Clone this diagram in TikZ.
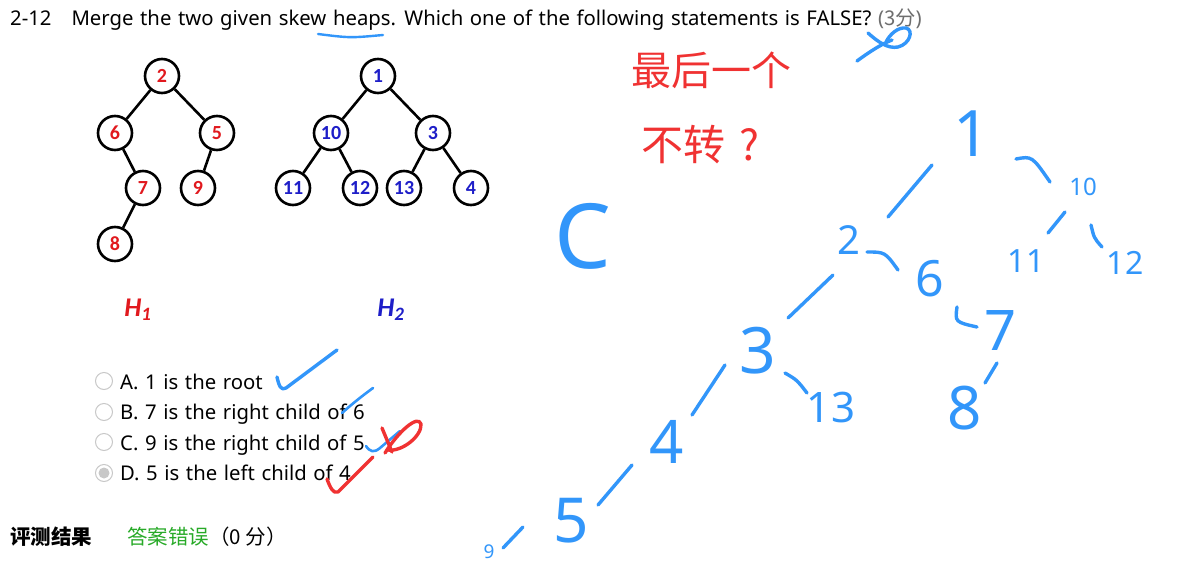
\documentclass[tikz,border=0pt]{standalone}
\usepackage{fontspec}
\setmainfont{Noto Sans}[WordSpace=1.25]
\newfontfamily\cjk{Noto Sans CJK SC}
\newfontfamily\calib{Carlito}
\newfontfamily\hand{Noto Sans}
\definecolor{nred}{RGB}{225,25,30}
\definecolor{nblue}{RGB}{30,30,200}
\definecolor{inkb}{RGB}{50,150,250}
\definecolor{inkr}{RGB}{240,50,50}
\definecolor{okgreen}{RGB}{40,170,40}
\definecolor{scoregray}{RGB}{110,110,110}
\definecolor{radiogray}{RGB}{200,200,200}
\newcommand{\fs}[1]{\fontsize{#1}{#1}\selectfont}
\begin{document}
\begin{tikzpicture}[x=1pt,y=-1pt,
  hn/.style={circle,draw=black,line width=2.6pt,minimum size=34pt,inner sep=0pt,font=\calib\bfseries\fs{20}},
  edge/.style={line width=2.6pt,black},
  opt/.style={anchor=base west,font=\fs{20.3},inner sep=0pt},
  radio/.style={circle,draw=radiogray,line width=1pt,fill=white,minimum size=17pt,inner sep=0pt},
  ink/.style={inkb,line width=3.4pt,line cap=round,line join=round},
  inkred/.style={inkr,line width=3.4pt,line cap=round,line join=round},
  hw/.style={text=inkb,inner sep=0pt,font=\hand},
  hwr/.style={text=inkr,inner sep=0pt,font=\cjk}]
\useasboundingbox (0,0) rectangle (1188,562);
\fill[white] (0,0) rectangle (1188,562);
\clip (0,0) rectangle (1188,562);

% title
\node[anchor=base west,inner sep=0pt,font=\fs{20.3}] (title) at (10,25)
  {2-12\hspace{20pt}Merge the two given skew heaps. Which one of the following statements is FALSE? \textcolor{scoregray}{({\cjk 3分})}};

% H1
\node[hn,text=nred] (a2) at (162,76) {2};
\node[hn,text=nred] (a6) at (115,133) {6};
\node[hn,text=nred] (a5) at (217,133) {5};
\node[hn,text=nred] (a7) at (143,188) {7};
\node[hn,text=nred] (a9) at (198,188) {9};
\node[hn,text=nred] (a8) at (115,244) {8};
\draw[edge] (a2) -- (a6);
\draw[edge] (a2) -- (a5);
\draw[edge] (a6) -- (a7);
\draw[edge] (a5) -- (a9);
\draw[edge] (a7) -- (a8);

% H2
\node[hn,text=nblue] (b1) at (378,76) {1};
\node[hn,text=nblue] (b10) at (331,133) {10};
\node[hn,text=nblue] (b3) at (433,133) {3};
\node[hn,text=nblue] (b11) at (293,188) {11};
\node[hn,text=nblue] (b12) at (360,188) {12};
\node[hn,text=nblue] (b13) at (404,188) {13};
\node[hn,text=nblue] (b4) at (471,188) {4};
\draw[edge] (b1) -- (b10);
\draw[edge] (b1) -- (b3);
\draw[edge] (b10) -- (b11);
\draw[edge] (b10) -- (b12);
\draw[edge] (b3) -- (b13);
\draw[edge] (b3) -- (b4);

\node[text=nred,font=\calib\bfseries\itshape\fs{27}] (h1) at (138,310) {H\textsubscript{1}};
\node[text=nblue,font=\calib\bfseries\itshape\fs{27}] (h2) at (391,310) {H\textsubscript{2}};

% options
\node[radio] (ra) at (104,381) {};
\node[radio] (rb) at (104,412) {};
\node[radio] (rc) at (104,442) {};
\node[radio,fill=white] (rd) at (104,473) {};
\fill[radiogray] (rd.center) circle (5.5pt);
\node[opt] (oa) at (120,389) {A. 1 is the root};
\node[opt] (ob) at (120,419) {B. 7 is the right child of 6};
\node[opt] (oc) at (120,450) {C. 9 is the right child of 5};
\node[opt] (od) at (120,480) {D. 5 is the left child of 4};

% result line
\node[anchor=base west,inner sep=0pt,font=\cjk\bfseries\fs{20.5}] (res) at (10,544) {评测结果};
\node[anchor=base west,inner sep=0pt,font=\cjk\fs{20.5}] (ans) at (127,544) {\textcolor{okgreen}{答案错误}（0 分）};

% ---- handwritten annotations ----
\draw[ink,line width=2.4pt] (318,34) .. controls (350,38) .. (383,35);
\draw[ink] (857,61) .. controls (872,50) and (882,44) .. (892,40);
\draw[ink] (868,33) .. controls (878,42) and (888,49) .. (898,47) .. controls (910,44) and (914,30) .. (906,28) .. controls (898,27) and (890,34) .. (886,42);

\node[hwr,font=\cjk\fs{40}] (r1) at (711,70) {最后一个};
\node[hwr,font=\cjk\fs{42}] (r2) at (700,145) {不转\hspace{14pt}?};

\node[hw,font=\hand\fs{90}] (hC) at (583,236) {C};
\node[hw,font=\hand\fs{64}] (n1) at (972,134) {1};
\node[hw,font=\hand\fs{24}] (n10) at (1083,187) {10};
\node[hw,font=\hand\fs{32}] (n11) at (1026,261) {11};
\node[hw,font=\hand\fs{32}] (n12) at (1125,263) {12};
\node[hw,font=\hand\fs{40}] (n2) at (849,240) {2};
\node[hw,font=\hand\fs{50}] (n6) at (930,279) {6};
\node[hw,font=\hand\fs{56}] (n7) at (1001,331) {7};
\node[hw,font=\hand\fs{60}] (n8) at (965,408) {8};
\node[hw,font=\hand\fs{64}] (n3) at (758,351) {3};
\node[hw,font=\hand\fs{42}] (n13) at (831,408) {13};
\node[hw,font=\hand\fs{60}] (n4) at (667,442) {4};
\node[hw,font=\hand\fs{62}] (n5) at (571,521) {5};
\node[hw,font=\hand\fs{19}] (n9) at (489,552) {9};

\draw[ink] (932,165) -- (888,217);
\draw[ink] (1016,159) .. controls (1032,156) .. (1050,182);
\draw[ink] (1065,212) -- (1048,233);
\draw[ink] (1091,225) .. controls (1094,238) .. (1102,247);
\draw[ink] (867,252) .. controls (885,252) .. (898,270);
\draw[ink] (957,307) .. controls (955,322) .. (977,327);
\draw[ink] (997,363) -- (985,383);
\draw[ink] (833,275) -- (788,318);
\draw[ink] (785,373) .. controls (797,380) .. (807,393);
\draw[ink] (725,365) -- (692,415);
\draw[ink] (632,465) -- (598,505);
\draw[ink] (523,527) -- (503,548);

% checks
\draw[ink] (277,377) .. controls (279,386) and (281,391) .. (286,388) -- (337,350);
\draw[ink,line width=2.6pt] (342,413) .. controls (352,404) and (362,396) .. (373,388);
\draw[ink,line width=2.6pt] (366,446) .. controls (370,452) and (374,453) .. (380,448) -- (400,431);
\draw[inkred] (382,428) -- (392,452);
\draw[inkred] (385,453) .. controls (398,432) and (418,414) .. (421,424) .. controls (422,436) and (402,452) .. (388,450);
\draw[inkred] (327,479) .. controls (330,487) and (333,494) .. (338,492) -- (373,457);
\end{tikzpicture}
\end{document}
